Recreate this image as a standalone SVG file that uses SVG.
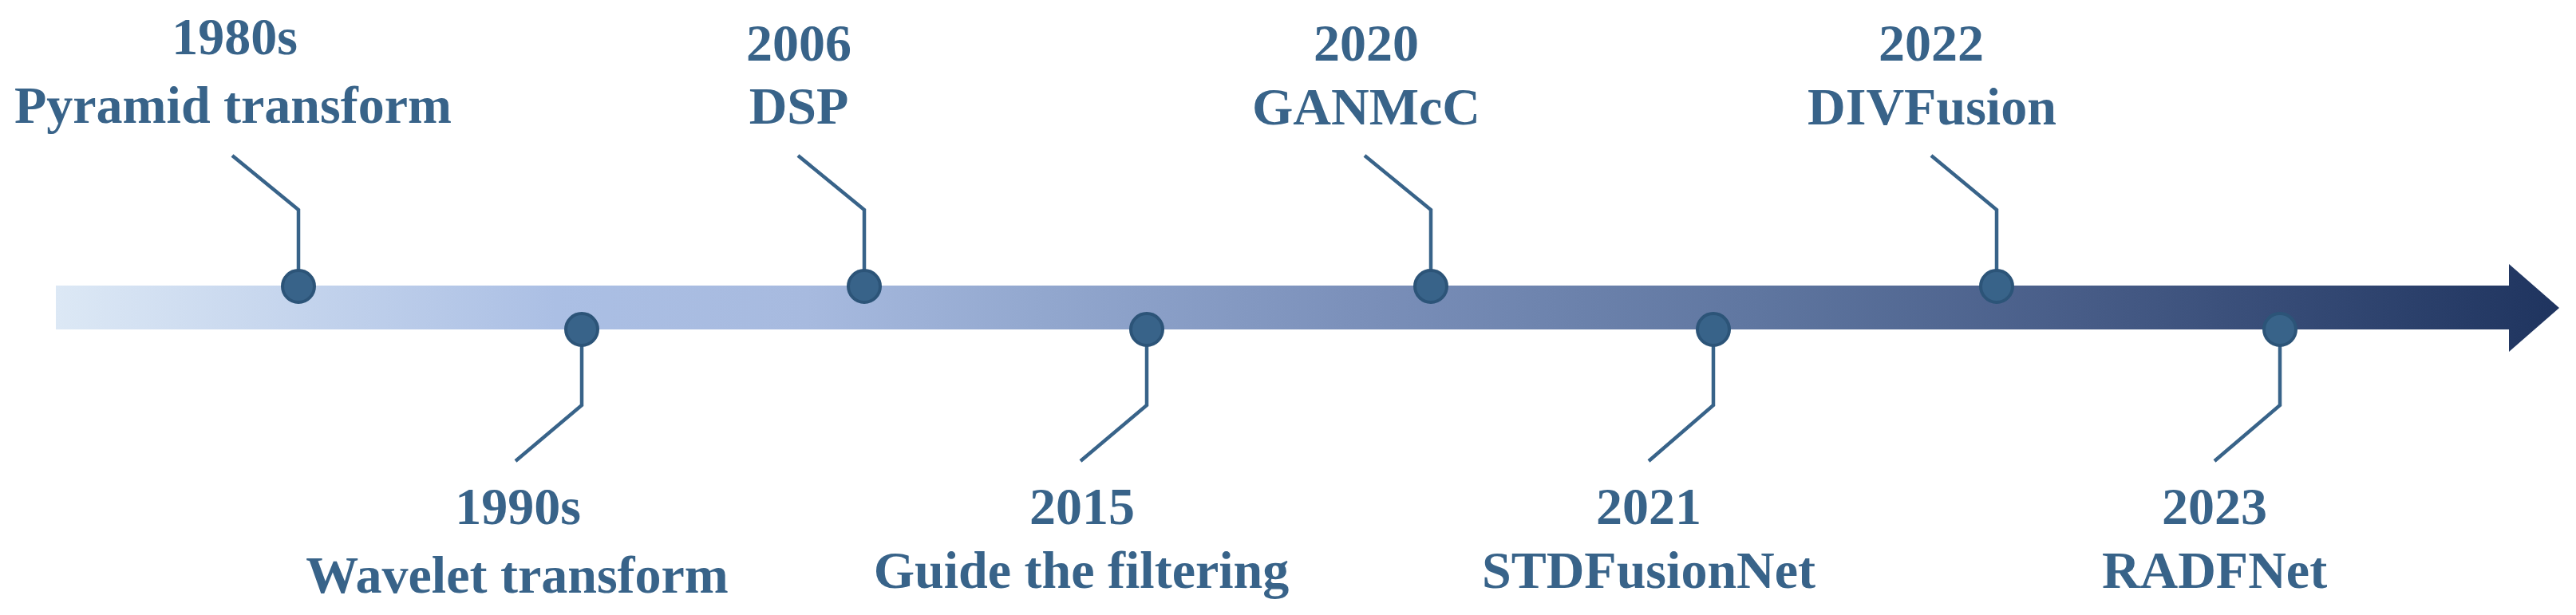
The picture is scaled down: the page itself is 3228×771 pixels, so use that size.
<svg xmlns="http://www.w3.org/2000/svg" width="3228" height="771" viewBox="0 0 3228 771">
<defs>
<linearGradient id="barGrad" gradientUnits="userSpaceOnUse" x1="70" y1="0" x2="3207" y2="0">
<stop offset="0" stop-color="#dce8f5"/>
<stop offset="0.2" stop-color="#abbfe4"/>
<stop offset="0.3" stop-color="#a7badf"/>
<stop offset="0.39" stop-color="#93a8cf"/>
<stop offset="0.52" stop-color="#7b90ba"/>
<stop offset="0.68" stop-color="#5f76a0"/>
<stop offset="0.81" stop-color="#475c87"/>
<stop offset="1" stop-color="#1f345f"/>
</linearGradient>
<style>
.lead{fill:none;stroke:#386389;stroke-width:4.5;stroke-linejoin:miter}
.dot{fill:#386389;stroke:#2c5478;stroke-width:4}
.lbl{font-family:"Liberation Serif","Times New Roman",serif;font-weight:bold;font-size:66px;fill:#386389;text-anchor:middle}
</style>
</defs>
<rect width="3228" height="771" fill="#ffffff"/>
<g id="timeline-arrow">
<path d="M70,358 H3144 V331 L3207,386 L3144,441 V413 H70 Z" fill="url(#barGrad)"/>
</g>
<g id="connectors">
<polyline class="lead" points="374,340 374,263 291,195"/>
<polyline class="lead" points="729,431 729,508 646,578"/>
<polyline class="lead" points="1083,340 1083,263 1000,195"/>
<polyline class="lead" points="1437,431 1437,508 1354,578"/>
<polyline class="lead" points="1793,340 1793,263 1710,195"/>
<polyline class="lead" points="2147,431 2147,508 2066,578"/>
<polyline class="lead" points="2502,340 2502,263 2420,195"/>
<polyline class="lead" points="2857,431 2857,508 2775,578"/>
</g>
<g id="node-1980s">
<circle class="dot" cx="374" cy="359" r="20"/>
<text class="lbl" x="294" y="68">1980s</text>
<text class="lbl" x="292" y="154">Pyramid transform</text>
</g>
<g id="node-1990s">
<circle class="dot" cx="729" cy="413" r="20"/>
<text class="lbl" x="649" y="657">1990s</text>
<text class="lbl" x="648" y="743">Wavelet transform</text>
</g>
<g id="node-2006">
<circle class="dot" cx="1083" cy="359" r="20"/>
<text class="lbl" x="1001" y="76">2006</text>
<text class="lbl" x="1001" y="155">DSP</text>
</g>
<g id="node-2015">
<circle class="dot" cx="1437" cy="413" r="20"/>
<text class="lbl" x="1356" y="657">2015</text>
<text class="lbl" x="1355" y="737">Guide the filtering</text>
</g>
<g id="node-2020">
<circle class="dot" cx="1793" cy="359" r="20"/>
<text class="lbl" x="1712" y="76">2020</text>
<text class="lbl" x="1712" y="156">GANMcC</text>
</g>
<g id="node-2021">
<circle class="dot" cx="2147" cy="413" r="20"/>
<text class="lbl" x="2066" y="657">2021</text>
<text class="lbl" x="2066" y="737">STDFusionNet</text>
</g>
<g id="node-2022">
<circle class="dot" cx="2502" cy="359" r="20"/>
<text class="lbl" x="2420" y="76">2022</text>
<text class="lbl" x="2421" y="156">DIVFusion</text>
</g>
<g id="node-2023">
<circle class="dot" cx="2857" cy="413" r="20"/>
<text class="lbl" x="2775" y="657">2023</text>
<text class="lbl" x="2775" y="737">RADFNet</text>
</g>
</svg>
